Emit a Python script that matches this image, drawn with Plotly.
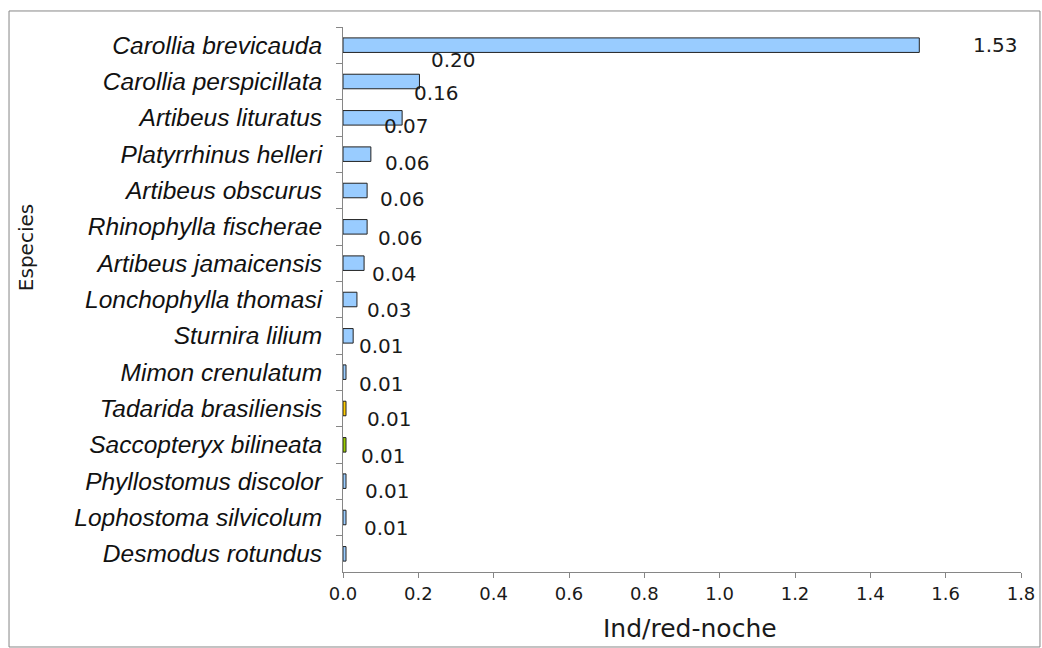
import plotly.graph_objects as go

# Capture rate per species (individuals per net-night)
species = [
    "Carollia brevicauda", "Carollia perspicillata", "Artibeus lituratus",
    "Platyrrhinus helleri", "Artibeus obscurus", "Rhinophylla fischerae",
    "Artibeus jamaicensis", "Lonchophylla thomasi", "Sturnira lilium",
    "Mimon crenulatum", "Tadarida brasiliensis", "Saccopteryx bilineata",
    "Phyllostomus discolor", "Lophostoma silvicolum", "Desmodus rotundus",
]
rates = [1.53, 0.203, 0.157, 0.074, 0.064, 0.064, 0.056, 0.037, 0.027,
         0.008, 0.008, 0.008, 0.008, 0.008, 0.008]
x_ticks = [0.0, 0.2, 0.4, 0.6, 0.8, 1.0, 1.2, 1.4, 1.6, 1.8]

# Bar fills: two non-phyllostomid families get their own colour
bar_colors = ["#99CCFF"] * 10 + ["#FFCC00", "#99CC00"] + ["#99CCFF"] * 3

# Value label offsets (px) from the bar end / bar centre
label_dx = [76, 34, 34, 36, 40, 35, 36, 38, 36, 35, 35, 43, 37, 41, 40]
label_dy = [0, 22, 25, 28, 28, 28, 25, 26, 26, 26, 25, 26, 25, 27, 26]

AXIS_GRAY = "#868686"

fig = go.Figure()
fig.add_trace(go.Bar(
    x=rates, y=species, orientation="h",
    marker=dict(color=bar_colors, line=dict(color="#222222", width=1)),
    width=0.4, hoverinfo="x+y",
))

for sp, v, dx, dy in zip(species, rates, label_dx, label_dy):
    fig.add_annotation(
        x=v, y=sp, text=f"{v:.2f}", showarrow=False,
        xanchor="center", yanchor="middle", xshift=dx, yshift=dy,
        font=dict(family="DejaVu Sans", size=20, color="#1a1a1a"),
    )

# Axis titles
fig.add_annotation(
    x=0.512, y=-0.103, xref="paper", yref="paper", text="Ind/red-noche",
    showarrow=False, xanchor="center", yanchor="middle",
    font=dict(family="DejaVu Sans", size=25, color="#1a1a1a"),
)
fig.add_annotation(
    x=-0.4676, y=0.596, xref="paper", yref="paper", text="Especies",
    showarrow=False, xanchor="center", yanchor="middle", textangle=-90,
    font=dict(family="DejaVu Sans", size=20, color="#1a1a1a"),
)

# Outer frame around the whole chart
fig.add_shape(
    type="rect", xref="paper", yref="paper",
    x0=-0.4926, x1=1.028, y0=-0.1376, y1=1.0294,
    line=dict(color=AXIS_GRAY, width=1), fillcolor="rgba(0,0,0,0)",
)

fig.update_layout(
    width=1042, height=648, autosize=False,
    margin=dict(l=343, r=21, t=27, b=76, autoexpand=False),
    paper_bgcolor="white", plot_bgcolor="white",
    showlegend=False, bargap=0.6,
)
fig.update_xaxes(
    range=[0, 1.8], tickvals=x_ticks,
    ticktext=[f"{t:.1f}" for t in x_ticks],
    showgrid=False, zeroline=False, automargin=False,
    showline=True, linecolor=AXIS_GRAY, linewidth=1,
    ticks="outside", ticklen=5, tickcolor=AXIS_GRAY,
    tickfont=dict(family="DejaVu Sans", size=18, color="#1a1a1a"),
)
fig.update_yaxes(
    categoryorder="array", categoryarray=species,
    range=[len(species) - 0.5, -0.5],
    showgrid=False, zeroline=False, automargin=False,
    showline=True, linecolor=AXIS_GRAY, linewidth=1,
    ticks="outside", ticklen=6, tickcolor=AXIS_GRAY, tickson="boundaries",
    ticklabelstandoff=15,
    tickfont=dict(family="Liberation Sans", size=24.5, color="#111111",
                  style="italic"),
)

fig.write_html("out.html")
